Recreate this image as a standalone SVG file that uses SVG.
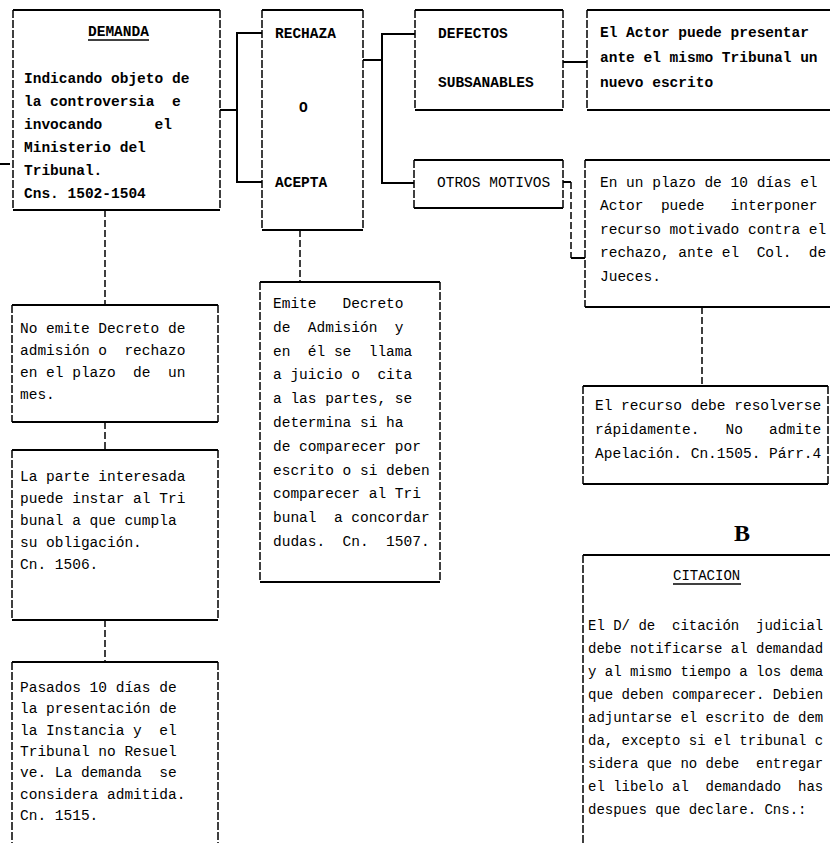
<svg xmlns="http://www.w3.org/2000/svg" width="830" height="843" viewBox="0 0 830 843">
<style>
.t{font-family:"Liberation Mono","DejaVu Sans Mono",monospace;font-size:14.5px;fill:#000;white-space:pre}
.s{font-size:14px}
.b{font-weight:bold}
.eh{stroke:#000;stroke-width:2;fill:none}
.ev{stroke:#000;stroke-width:1.5;stroke-dasharray:8 2;fill:none}
.c{stroke:#000;stroke-width:2;fill:none}
.cd{stroke:#000;stroke-width:1.5;stroke-dasharray:7 3;fill:none}
.u{stroke:#000;stroke-width:1.5}
</style>
<rect width="830" height="843" fill="#fff"/>
<g id="connectors">
<path class="c" d="M220,110 H237 M262,33 H237 V182 H262"/>
<path class="c" d="M363,60 H382 M415,34 H382 V183 H414"/>
<path class="c" d="M563,62 H587"/>
<path class="c" d="M563,182 H571 M585,258 H571"/>
<path class="cd" d="M571,182 V258"/>
<path class="cd" d="M702,307 V386"/>
<path class="cd" d="M105,210 V305"/>
<path class="cd" d="M105,422 V450"/>
<path class="cd" d="M105,620 V662"/>
<path class="cd" d="M300,230 V282"/>
<path class="c" d="M0,164 H10"/>
</g>
<g id="demanda">
<path class="eh" d="M13,10 H220 M13,210 H220"/>
<path class="ev" d="M13,10 V210 M220,10 V210"/>
<text class="t b"><tspan x="88" y="36">DEMANDA</tspan><tspan x="24" y="83">Indicando objeto de</tspan><tspan x="24" y="106">la controversia  e</tspan><tspan x="24" y="129">invocando      el</tspan><tspan x="24" y="152">Ministerio del</tspan><tspan x="24" y="175">Tribunal.</tspan><tspan x="24" y="198">Cns. 1502-1504</tspan></text>
<line class="u" x1="88" y1="40" x2="149" y2="40"/>
</g>
<g id="rechaza">
<path class="eh" d="M262,10 H363 M262,230 H363"/>
<path class="ev" d="M262,10 V230 M363,10 V230"/>
<text class="t b"><tspan x="275" y="38">RECHAZA</tspan><tspan x="299" y="112">O</tspan><tspan x="275" y="187">ACEPTA</tspan></text>
</g>
<g id="defectos">
<path class="eh" d="M415,10 H563 M415,110 H563"/>
<path class="ev" d="M415,10 V110 M563,10 V110"/>
<text class="t b"><tspan x="438" y="38">DEFECTOS</tspan><tspan x="438" y="87">SUBSANABLES</tspan></text>
</g>
<g id="actor">
<path class="eh" d="M587,10 H830 M587,110 H830"/>
<path class="ev" d="M587,10 V110"/>
<text class="t b"><tspan x="600" y="37">El Actor puede presentar</tspan><tspan x="600" y="62">ante el mismo Tribunal un</tspan><tspan x="600" y="87">nuevo escrito</tspan></text>
</g>
<g id="otros">
<path class="eh" d="M414,160 H563 M414,208 H563"/>
<path class="ev" d="M414,160 V208 M563,160 V208"/>
<text class="t"><tspan x="437" y="187">OTROS MOTIVOS</tspan></text>
</g>
<g id="recurso">
<path class="eh" d="M585,160 H830 M585,307 H830"/>
<path class="ev" d="M585,160 V307"/>
<text class="t"><tspan x="600" y="187">En un plazo de 10 días el</tspan><tspan x="600" y="210">Actor  puede   interponer</tspan><tspan x="600" y="234">recurso motivado contra el</tspan><tspan x="600" y="257">rechazo, ante el  Col.  de</tspan><tspan x="600" y="281">Jueces.</tspan></text>
</g>
<g id="resolverse">
<path class="eh" d="M583,386 H828 M583,484 H828"/>
<path class="ev" d="M583,386 V484 M828,386 V484"/>
<text class="t"><tspan x="595" y="410">El recurso debe resolverse</tspan><tspan x="595" y="434">rápidamente.   No   admite</tspan><tspan x="595" y="458">Apelación. Cn.1505. Párr.4</tspan></text>
</g>
<g id="label-b">
<text x="742" y="541" text-anchor="middle" style="font-family:'Liberation Serif','DejaVu Serif',serif;font-size:24px;font-weight:bold">B</text>
</g>
<g id="citacion">
<path class="eh" d="M583,555 H830"/>
<path class="ev" d="M583,555 V843"/>
<text class="t s"><tspan x="673" y="580">CITACION</tspan><tspan x="588" y="630">El D/ de  citación  judicial</tspan><tspan x="588" y="653">debe notificarse al demandad</tspan><tspan x="588" y="676">y al mismo tiempo a los dema</tspan><tspan x="588" y="699">que deben comparecer. Debien</tspan><tspan x="588" y="722">adjuntarse el escrito de dem</tspan><tspan x="588" y="745">da, excepto si el tribunal c</tspan><tspan x="588" y="768">sidera que no debe  entregar</tspan><tspan x="588" y="791">el libelo al  demandado  has</tspan><tspan x="588" y="814">despues que declare. Cns.:</tspan></text>
<line class="u" x1="673" y1="584" x2="741" y2="584"/>
</g>
<g id="no-emite">
<path class="eh" d="M12,305 H218 M12,422 H218"/>
<path class="ev" d="M12,305 V422 M218,305 V422"/>
<text class="t"><tspan x="20" y="333">No emite Decreto de</tspan><tspan x="20" y="355">admisión o  rechazo</tspan><tspan x="20" y="377">en el plazo  de  un</tspan><tspan x="20" y="399">mes.</tspan></text>
</g>
<g id="la-parte">
<path class="eh" d="M12,450 H218 M12,620 H218"/>
<path class="ev" d="M12,450 V620 M218,450 V620"/>
<text class="t"><tspan x="20" y="481">La parte interesada</tspan><tspan x="20" y="503">puede instar al Tri</tspan><tspan x="20" y="525">bunal a que cumpla</tspan><tspan x="20" y="547">su obligación.</tspan><tspan x="20" y="569">Cn. 1506.</tspan></text>
</g>
<g id="pasados">
<path class="eh" d="M12,662 H218"/>
<path class="ev" d="M12,662 V843 M218,662 V843"/>
<text class="t"><tspan x="20" y="692">Pasados 10 días de</tspan><tspan x="20" y="713">la presentación de</tspan><tspan x="20" y="735">la Instancia y  el</tspan><tspan x="20" y="756">Tribunal no Resuel</tspan><tspan x="20" y="777">ve. La demanda  se</tspan><tspan x="20" y="799">considera admitida.</tspan><tspan x="20" y="820">Cn. 1515.</tspan></text>
</g>
<g id="emite">
<path class="eh" d="M260,282 H440 M260,582 H440"/>
<path class="ev" d="M260,282 V582 M440,282 V582"/>
<text class="t"><tspan x="273" y="308">Emite   Decreto</tspan><tspan x="273" y="332">de  Admisión  y</tspan><tspan x="273" y="356">en  él se  llama</tspan><tspan x="273" y="379">a juicio o  cita</tspan><tspan x="273" y="403">a las partes, se</tspan><tspan x="273" y="427">determina si ha</tspan><tspan x="273" y="451">de comparecer por</tspan><tspan x="273" y="475">escrito o si deben</tspan><tspan x="273" y="498">comparecer al Tri</tspan><tspan x="273" y="522">bunal  a concordar</tspan><tspan x="273" y="546">dudas.  Cn.  1507.</tspan></text>
</g>
</svg>
